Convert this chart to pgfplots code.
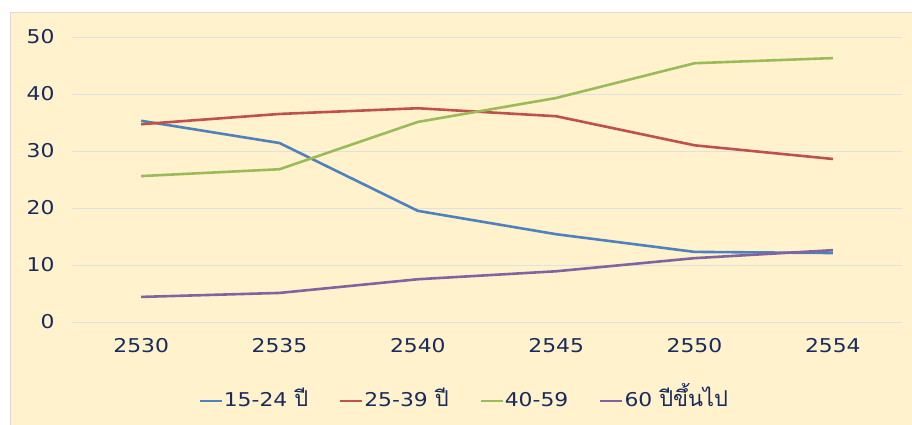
\documentclass[border=0pt]{standalone}
\usepackage{pgfplots}
\pgfplotsset{compat=1.18}
\usepackage{fontspec}
\setmainfont[FakeStretch=1.15]{DejaVu Sans}
\newfontfamily\thaifont[Script=Thai,Scale=1.15]{Loma}
\definecolor{cream}{RGB}{255,242,204}
\definecolor{txt}{RGB}{25,42,92}
\definecolor{sblue}{RGB}{79,129,189}
\definecolor{sred}{RGB}{192,80,77}
\definecolor{sgreen}{RGB}{155,187,89}
\definecolor{spurple}{RGB}{128,100,162}
\begin{document}
\begin{tikzpicture}[x=1pt,y=1pt]
\path[use as bounding box] (0,0) rectangle (912,425);
\fill[white] (0,0) rectangle (912,425);
\filldraw[fill=cream, draw=black!15, line width=1pt] (10,-2) rectangle (914,412);
\begin{axis}[
  at={(72pt,103pt)}, anchor=south west,
  width=830pt, height=285pt, scale only axis,
  xmin=-0.5, xmax=5.5, ymin=0, ymax=50,
  xtick={0,1,2,3,4,5},
  xticklabels={2530,2535,2540,2545,2550,2554},
  ytick={0,10,20,30,40,50},
  ymajorgrids,
  grid style={black!12, line width=0.8pt},
  axis line style={draw=none},
  major tick length=0pt,
  /pgf/number format/assume math mode=true,
  ticklabel style={font=\fontsize{19}{22}\selectfont, text=txt},
  yticklabel style={xshift=-14pt},
  xticklabel style={yshift=-13pt},
  legend style={at={(0.472,-0.28)}, anchor=center, draw=none, fill=none,
    legend columns=4, font=\fontsize{19}{22}\selectfont, text=txt,
    nodes={text height=15pt, text depth=5pt, inner sep=1pt},
    /tikz/every even column/.append style={column sep=30pt}},
  legend cell align=left,
  legend image code/.code={\draw[#1, line width=2.2pt] (0pt,1pt) -- (22pt,1pt);},
  every axis plot/.append style={line width=2.6pt},
]
\addplot[sblue] coordinates {(0,35.3) (1,31.4) (2,19.5) (3,15.4) (4,12.3) (5,12.1)};
\addlegendentry{15-24 {\thaifont ปี}}
\addplot[sred] coordinates {(0,34.7) (1,36.5) (2,37.5) (3,36.1) (4,31.0) (5,28.6)};
\addlegendentry{25-39 {\thaifont ปี}}
\addplot[sgreen] coordinates {(0,25.6) (1,26.8) (2,35.1) (3,39.3) (4,45.4) (5,46.3)};
\addlegendentry{40-59}
\addplot[spurple] coordinates {(0,4.4) (1,5.1) (2,7.5) (3,8.9) (4,11.2) (5,12.6)};
\addlegendentry{60 {\thaifont ปีขึ้นไป}}
\end{axis}
\end{tikzpicture}
\end{document}
